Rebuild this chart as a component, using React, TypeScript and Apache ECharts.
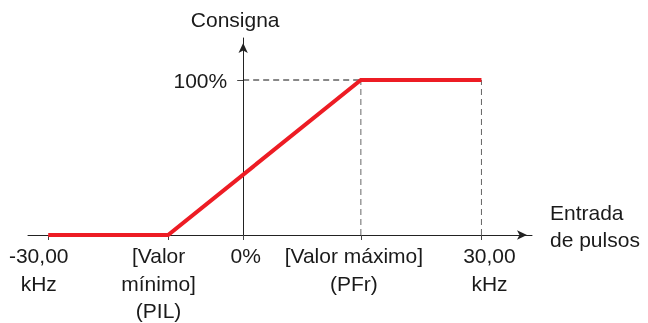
import React, { useEffect, useRef } from "react";
import * as echarts from "echarts";

// Schematic input axis (vertical axis at 0)
const xTickValues = [-27, -10.4, 0, 16.3, 33];
const xTickLabels = [
  "-30,00\nkHz",
  "[Valor\nmínimo]\n(PIL)",
  "0%",
  "[Valor máximo]\n(PFr)",
  "30,00\nkHz",
];
const curveX = [-27, -10.4, 16.3, 33];
const curveY = [0, 0, 100, 100];
const yTickValues = [100];
const yTickLabels = ["100%"];
const guideX = [16.3, 33];
const guideLevel = 100;

// layout: horizontal shift (px) of each x label relative to its tick
const xLabelShift = [-9.5, -9.5, 2.5, -7, 8];

const X_MIN = -29.8;
const X_MAX = 40;
const GRID_LEFT = 28;
const GRID_RIGHT = 116;
const PLOT_W = 648 - GRID_LEFT - GRID_RIGHT;

const FONT = "'Liberation Sans', Arial, Helvetica, sans-serif";
const TEXT = "#1a1a1a";

export default function App() {
  const ref = useRef<HTMLDivElement>(null);
  useEffect(() => {
    if (!ref.current) return;
    const chart = echarts.init(ref.current, null, { renderer: "svg" });
    const curve = curveX.map((x, i) => [x, curveY[i]]);
    const series: any[] = [];
    series.push({
      type: "line",
      data: [
        [0, guideLevel],
        [guideX[0], guideLevel],
      ],
      symbol: "none",
      lineStyle: { color: "#111", width: 1, type: [6, 4] },
      z: 1,
    });
    guideX.forEach((gx) => {
      series.push({
        type: "line",
        data: [
          [gx, 0],
          [gx, guideLevel],
        ],
        symbol: "none",
        lineStyle: { color: "#666", width: 1, type: [6, 4] },
        z: 1,
      });
    });
    series.push({
      type: "line",
      data: curve,
      symbol: "none",
      lineStyle: { color: "#ed1c24", width: 4, cap: "butt", join: "miter" },
      z: 5,
    });

    const rich: any = {
      gap: { fontSize: 21, lineHeight: 18, fontFamily: FONT, color: TEXT },
    };
    xLabelShift.forEach((s, i) => {
      rich["t" + i] = {
        fontSize: 21,
        lineHeight: 27.5,
        fontFamily: FONT,
        color: TEXT,
        padding: s < 0 ? [0, -2 * s, 0, 0] : [0, 0, 0, 2 * s],
      };
    });

    // the vertical axis sits where the input value is 0
    const yAxisOffset = -((0 - X_MIN) / (X_MAX - X_MIN)) * PLOT_W;
    chart.setOption({
      animation: false,
      grid: {
        left: GRID_LEFT,
        right: GRID_RIGHT,
        top: 38,
        bottom: 88,
        containLabel: false,
        outerBoundsMode: "none",
      },
      xAxis: {
        type: "value",
        min: X_MIN,
        max: X_MAX,
        splitLine: { show: false },
        axisLine: {
          onZero: false,
          symbol: ["none", "arrow"],
          symbolSize: [7, 10],
          symbolOffset: [0, -5],
          lineStyle: { color: "#222", width: 1 },
        },
        axisTick: {
          show: true,
          customValues: xTickValues,
          length: 5,
          lineStyle: { color: "#444", width: 1 },
        },
        axisLabel: {
          customValues: xTickValues,
          formatter: (v: number) => {
            const i = xTickValues.findIndex((t) => Math.abs(t - v) < 1e-6);
            if (i < 0) return "";
            return xTickLabels[i]
              .split("\n")
              .map((l) => `{t${i}|${l}}`)
              .join("\n");
          },
          margin: 7,
          fontSize: 21,
          lineHeight: 27.5,
          color: TEXT,
          fontFamily: FONT,
          align: "center",
          rich,
        },
        name: "Entrada\nde pulsos\n{gap| }",
        nameLocation: "end",
        nameGap: 18,
        nameTextStyle: {
          fontSize: 21,
          lineHeight: 27,
          color: TEXT,
          fontFamily: FONT,
          align: "left",
          verticalAlign: "middle",
          rich,
        },
      },
      yAxis: {
        type: "value",
        min: 0,
        max: 127.1,
        offset: yAxisOffset,
        splitLine: { show: false },
        axisLine: {
          onZero: false,
          symbol: ["none", "arrow"],
          symbolSize: [7, 10],
          symbolOffset: [0, -5],
          lineStyle: { color: "#222", width: 1 },
        },
        axisTick: {
          show: true,
          customValues: yTickValues,
          length: 6,
          lineStyle: { color: "#444", width: 1 },
        },
        axisLabel: {
          customValues: yTickValues,
          formatter: (v: number) => {
            const i = yTickValues.findIndex((t) => Math.abs(t - v) < 1e-6);
            return i >= 0 ? yTickLabels[i] : "";
          },
          margin: 16,
          fontSize: 21,
          color: TEXT,
          fontFamily: FONT,
        },
        name: "Consigna",
        nameLocation: "end",
        nameGap: 8,
        nameTextStyle: {
          fontSize: 21,
          color: TEXT,
          fontFamily: FONT,
          align: "center",
          padding: [0, 16, 0, 0],
        },
      },
      series,
    });
    return () => chart.dispose();
  }, []);
  return <div ref={ref} style={{ width: 648, height: 323, position: "fixed", left: 0, top: 0 }} />;
}
